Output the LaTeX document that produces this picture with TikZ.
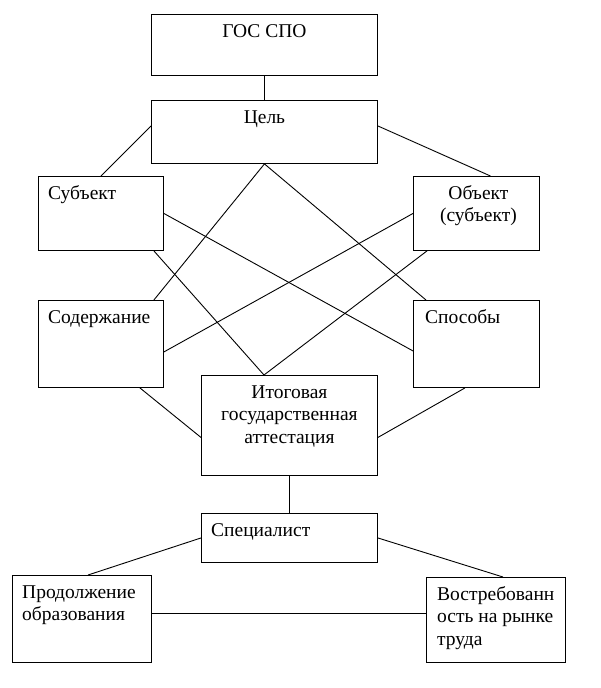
\documentclass[tikz,border=0pt]{standalone}
\usepackage{fontspec}
\setmainfont{Liberation Serif}
\usetikzlibrary{calc}
\begin{document}
\begin{tikzpicture}[x=1pt,y=-1pt,
  box/.style={draw, line width=0.9pt, rectangle, inner sep=0pt, anchor=north west},
  txt/.style={inner sep=0pt, font=\fontsize{19.5}{22.5}\selectfont},
  link/.style={line width=0.9pt}]
\useasboundingbox (0,0) rectangle (600,688);
% boxes
\node[box, minimum width=226pt, minimum height=61pt] (gos) at (151,14) {};
\node[box, minimum width=226pt, minimum height=63pt] (cel) at (151,100) {};
\node[box, minimum width=125pt, minimum height=74pt] (subj) at (38,176) {};
\node[box, minimum width=126pt, minimum height=74pt] (obj) at (413,176) {};
\node[box, minimum width=125pt, minimum height=87pt] (sod) at (38,300) {};
\node[box, minimum width=126pt, minimum height=87pt] (spos) at (413,300) {};
\node[box, minimum width=176pt, minimum height=100pt] (itog) at (201,375) {};
\node[box, minimum width=176pt, minimum height=49pt] (spec) at (201,513) {};
\node[box, minimum width=139pt, minimum height=87pt] (prod) at (12,575) {};
\node[box, minimum width=139pt, minimum height=85pt] (vostr) at (426,577) {};
% texts
\node[txt, anchor=north] (tgos) at ([yshift=-7.25pt]gos.north) {\strut ГОС СПО};
\node[txt, anchor=north] (tcel) at ([yshift=-7.25pt]cel.north) {\strut Цель};
\node[txt, anchor=north west, align=left] (tsubj) at ([xshift=10pt,yshift=-7.25pt]subj.north west) {\strut Субъект};
\node[txt, anchor=north, align=center] (tobj) at ([xshift=2pt,yshift=-7.25pt]obj.north) {\strut Объект\\(субъект)};
\node[txt, anchor=north west, align=left] (tsod) at ([xshift=10pt,yshift=-7.25pt]sod.north west) {\strut Содержание};
\node[txt, anchor=north west, align=left] (tspos) at ([xshift=12pt,yshift=-7.25pt]spos.north west) {\strut Способы};
\node[txt, anchor=north, align=center] (titog) at ([yshift=-7.25pt]itog.north) {\strut Итоговая\\государственная\\аттестация};
\node[txt, anchor=north west, align=left] (tspec) at ([xshift=10pt,yshift=-7.25pt]spec.north west) {\strut Специалист};
\node[txt, anchor=north west, align=left] (tprod) at ([xshift=10pt,yshift=-7.25pt]prod.north west) {\strut Продолжение\\образования};
\node[txt, anchor=north west, align=left] (tvostr) at ([xshift=11pt,yshift=-7.25pt]vostr.north west) {\strut Востребованн\\ость на рынке\\труда};
% connectors
\draw[link] (gos.south) -- (cel.north);
\draw[link] ([yshift=6pt]cel.west) -- (subj.north);
\draw[link] ([yshift=6pt]cel.east) -- ([xshift=14pt]obj.north);
\draw[link] (cel.south) -- ([xshift=-10pt]sod.north east);
\draw[link] (cel.south) -- ([xshift=13pt]spos.north west);
\draw[link] (subj.east) -- ([yshift=-7pt]spos.west);
\draw[link] ([xshift=-10pt]subj.south east) -- ([xshift=63pt]itog.north west);
\draw[link] (obj.west) -- ([yshift=-8pt]sod.east);
\draw[link] ([xshift=14pt]obj.south west) -- ([xshift=63pt]itog.north west);
\draw[link] ([xshift=-24pt]sod.south east) -- ([yshift=-12pt]itog.west);
\draw[link] ([xshift=52pt]spos.south west) -- ([yshift=-12pt]itog.east);
\draw[link] (itog.south) -- (spec.north);
\draw[link] (spec.west) -- ([xshift=76pt]prod.north west);
\draw[link] (spec.east) -- ([xshift=77pt]vostr.north west);
\draw[link] ([yshift=6pt]prod.east) -- ([yshift=6pt]prod.east -| vostr.west);
\end{tikzpicture}
\end{document}
